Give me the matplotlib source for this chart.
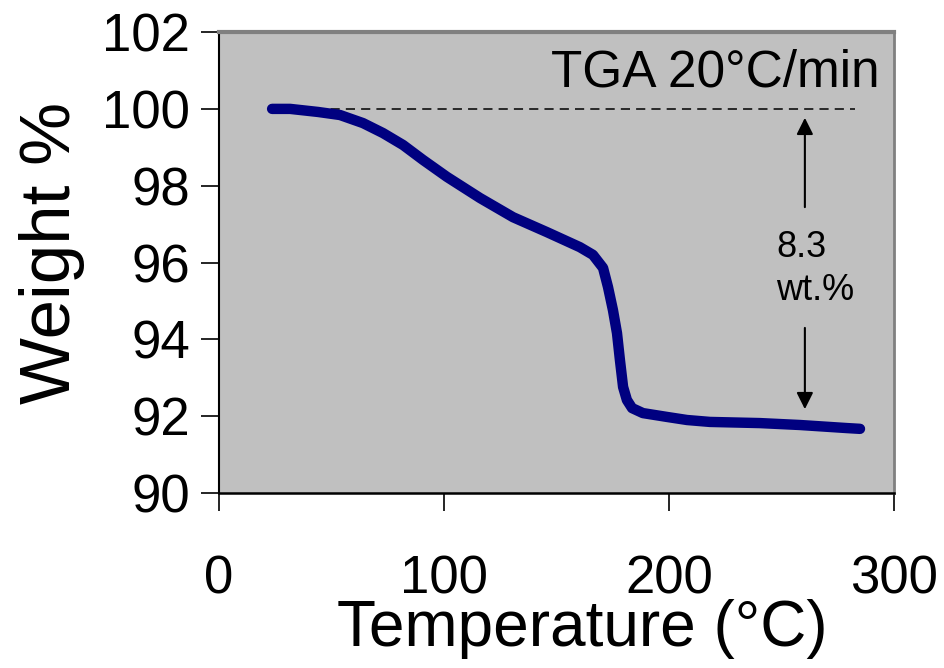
import matplotlib.pyplot as plt

plt.rcParams['font.family'] = ['Liberation Sans', 'DejaVu Sans']

# TGA curve (temperature in C, weight in %)
temperature = [23.6, 31.6, 44.0, 53.8, 64.0, 72.9, 81.8, 90.7, 101.3, 116.0,
               130.7, 145.8, 160.4, 166.2, 170.7, 172.9, 175.1, 176.9, 178.2, 179.6,
               181.3, 183.6, 188.4, 199.1, 208.0, 218.2, 240.4, 258.2, 279.1, 284.9]
weight = [100.0, 100.0, 99.92, 99.84, 99.63, 99.37, 99.06, 98.67, 98.23, 97.68,
          97.18, 96.79, 96.40, 96.20, 95.86, 95.36, 94.76, 94.16, 93.46, 92.76,
          92.42, 92.21, 92.08, 91.98, 91.90, 91.85, 91.82, 91.77, 91.69, 91.67]

x_ticks = [0, 100, 200, 300]
y_ticks = [90, 92, 94, 96, 98, 100, 102]

# reference line and weight-loss annotation
ref_line_x = [36, 282.7]
ref_weight = 100.0
arrow_x = 260.4
loss_label = "8.3\nwt.%"
rate_label = "TGA 20°C/min"

fig = plt.figure(figsize=(9.44, 6.68), dpi=100)
ax = fig.add_axes([0.232, 0.262, 0.715, 0.690])
ax.set_facecolor('#C0C0C0')

ax.plot(ref_line_x, [ref_weight, ref_weight], color='black', lw=1.1,
        dashes=(6, 4))
ax.plot(temperature, weight, color='#000080', lw=7.5,
        solid_capstyle='round', solid_joinstyle='round')

# arrows: up to 100 %, down to the final plateau
ax.annotate('', xy=(arrow_x, 99.84), xytext=(arrow_x, 97.37),
            arrowprops=dict(arrowstyle='-|>', color='black', lw=1.5,
                            mutation_scale=25))
ax.annotate('', xy=(arrow_x, 92.11), xytext=(arrow_x, 94.37),
            arrowprops=dict(arrowstyle='-|>', color='black', lw=1.5,
                            mutation_scale=25))
ax.text(247.6, 95.84, loss_label, fontsize=26, ha='left', va='center',
        multialignment='left', linespacing=1.3)
ax.text(293.8, 100.93, rate_label, fontsize=37, ha='right', va='center')

ax.set_xlim(0, 300)
ax.set_ylim(90, 102)
ax.set_xticks(x_ticks)
ax.set_yticks(y_ticks)
ax.tick_params(axis='both', direction='out', length=13, width=1.2,
               labelsize=38)
ax.tick_params(axis='x', pad=31)
ax.tick_params(axis='y', pad=8)

ax.spines['top'].set_color('#808080')
ax.spines['top'].set_linewidth(3)
ax.spines['right'].set_color('#808080')
ax.spines['right'].set_linewidth(2)
ax.spines['left'].set_linewidth(1.5)
ax.spines['bottom'].set_linewidth(1.8)

ax.set_xlabel('Temperature (°C)', fontsize=46, va='center')
ax.xaxis.set_label_coords(0.539, -0.296)
ax.set_ylabel('Weight %', fontsize=51, va='center', ha='center')
ax.yaxis.set_label_coords(-0.247, 0.521)

fig.savefig('out.png', dpi=100)
